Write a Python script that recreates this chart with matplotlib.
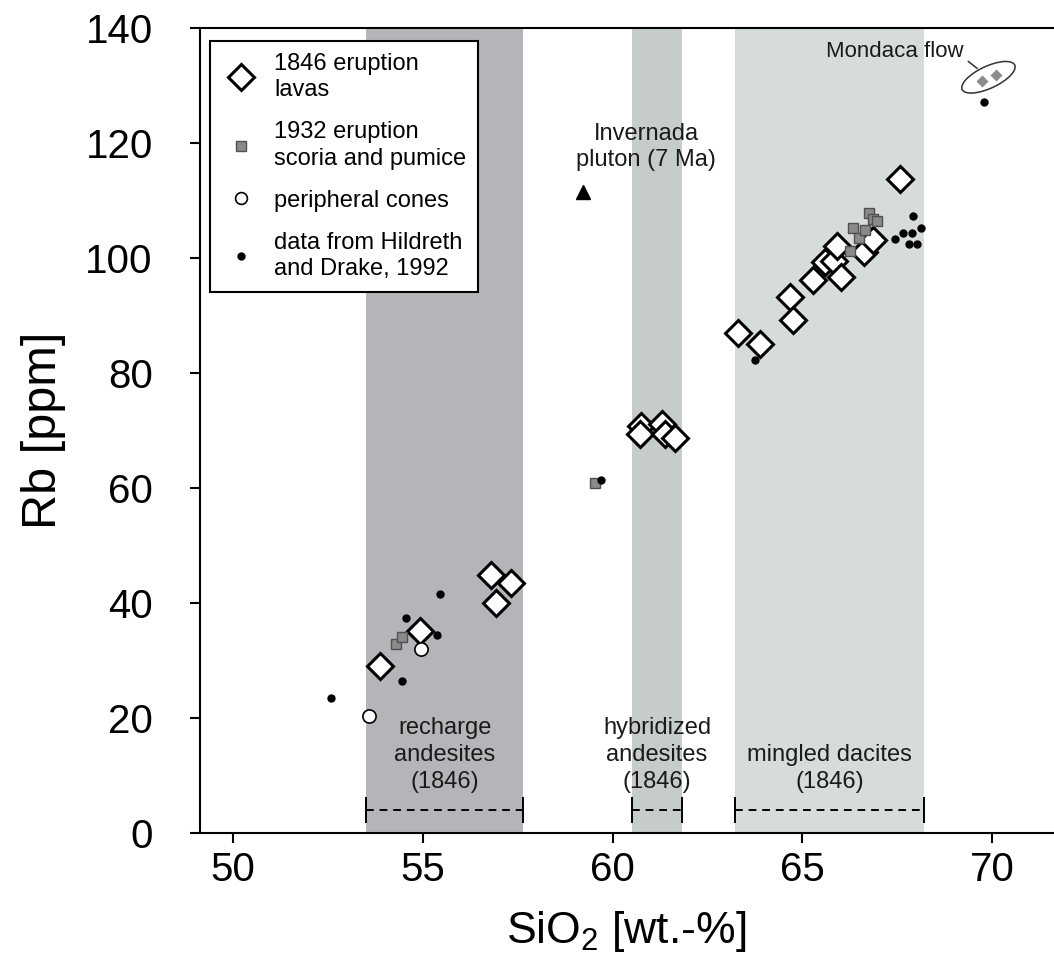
import matplotlib
matplotlib.use("Agg")
import matplotlib.pyplot as plt
from matplotlib.patches import Ellipse
from matplotlib.lines import Line2D
import matplotlib.transforms as mtransforms

plt.rcParams['font.family'] = ['Liberation Sans', 'DejaVu Sans']
plt.rcParams['mathtext.fontset'] = 'custom'
plt.rcParams['mathtext.rm'] = 'Liberation Sans'
plt.rcParams['mathtext.default'] = 'regular'

# ---- data ----
lavas_x = [53.87, 54.93, 56.79, 57.33, 56.92,
           60.75, 60.72, 61.30, 61.38, 61.65,
           63.31, 63.89, 64.68, 64.75, 65.29, 65.60, 65.82, 65.91, 66.01,
           66.63, 66.87, 67.58]
lavas_y = [29.1, 35.1, 44.8, 43.4, 40.0,
           70.8, 69.4, 71.0, 69.4, 68.7,
           86.9, 85.0, 93.1, 89.2, 96.2, 99.3, 99.5, 102.1, 96.7,
           101.0, 103.1, 113.6]

scoria_x = [54.29, 54.45, 59.54, 66.24, 66.33, 66.50, 66.65, 66.74, 66.87, 66.96]
scoria_y = [32.9, 34.1, 60.9, 101.2, 105.2, 103.5, 104.8, 107.8, 106.8, 106.4]

cones_x = [53.57, 54.95]
cones_y = [20.3, 31.9]

hildreth_x = [52.58, 54.45, 54.55, 55.37, 55.44, 59.69, 63.75,
              67.43, 67.66, 67.80, 67.88, 67.91, 68.01, 68.13, 69.79]
hildreth_y = [23.4, 26.5, 37.4, 34.4, 41.5, 61.3, 82.2,
              103.2, 104.3, 102.3, 104.3, 107.2, 102.3, 105.2, 127.1]

pluton_x = [59.23]
pluton_y = [111.4]

mondaca_x = [69.74, 70.10]
mondaca_y = [130.7, 131.8]

band_start = [53.50, 60.52, 63.22]
band_end = [57.65, 61.82, 68.20]
band_labels = ["recharge\nandesites\n(1846)", "hybridized\nandesites\n(1846)",
               "mingled dacites\n(1846)"]
band_colors = ['#b5b4b9', '#c6cbcb', '#d6dcdc']

xticks = [50, 55, 60, 65, 70]
yticks = [0, 20, 40, 60, 80, 100, 120, 140]

# ---- figure ----
fig = plt.figure(figsize=(10.54, 9.55), dpi=100)
ax = fig.add_axes([200/1054, 1 - 833/955, 853/1054, (833 - 27.5)/955])
ax.set_xlim(49.13, 71.6)
ax.set_ylim(0, 140)

for s, e, c, lab in zip(band_start, band_end, band_colors, band_labels):
    ax.axvspan(s, e, color=c, lw=0, zorder=0)
    ax.hlines(4.0, s, e, colors='black', linestyles=(0, (4, 3)), lw=1.4, zorder=2)
    ax.vlines([s, e], 1.7, 6.2, colors='black', lw=1.4, zorder=2)
    ax.text((s + e) / 2, 7.8, lab, ha='center', va='baseline', fontsize=17,
            linespacing=1.3, color='#1a1a1a', zorder=3)

ax.plot(lavas_x, lavas_y, ls='none', marker='D', ms=13.5, mfc='white',
        mec='black', mew=2.2, zorder=4)
ax.plot(scoria_x, scoria_y, ls='none', marker='s', ms=7.5, mfc='#8a8a8a',
        mec='#505050', mew=1.0, zorder=5)
ax.plot(cones_x, cones_y, ls='none', marker='o', ms=9.5, mfc='white',
        mec='black', mew=1.2, zorder=6)
ax.plot(hildreth_x, hildreth_y, ls='none', marker='o', ms=5, mfc='black',
        mec='black', zorder=7)
ax.plot(pluton_x, pluton_y, ls='none', marker='^', ms=10, mfc='black',
        mec='black', zorder=7)
ax.plot(mondaca_x, mondaca_y, ls='none', marker='D', ms=6.5, mfc='#8c8c8c',
        mec='none', zorder=7)

# ellipse around Mondaca flow, drawn in physical units at data location
cx = sum(mondaca_x) / len(mondaca_x) - 0.02
cy = sum(mondaca_y) / len(mondaca_y) + 0.1
trans = fig.dpi_scale_trans + mtransforms.ScaledTranslation(cx, cy, ax.transData)
ax.add_patch(Ellipse((0, 0), 0.58, 0.22, angle=25, fill=False, ec='#333333',
                     lw=1.1, transform=trans, zorder=8))
ax.plot([69.37, 69.60], [134.1, 132.9], color='#333333', lw=1.1, zorder=8)
ax.text(69.24, 135.8, "Mondaca flow", ha='right', va='center', fontsize=16,
        color='#1a1a1a')

ax.text(60.88, 119.2, "Invernada\npluton (7 Ma)", ha='center', va='center',
        fontsize=17, linespacing=1.25, color='#1a1a1a')

ax.set_xticks(xticks)
ax.set_yticks(yticks)
ax.tick_params(direction='out', length=7, width=1.5, labelsize=29)
ax.tick_params(axis='x', pad=6)
ax.tick_params(axis='y', pad=27)
for sp in ['left', 'bottom', 'top']:
    ax.spines[sp].set_linewidth(1.5)
ax.spines['right'].set_visible(False)

ax.set_xlabel("SiO$_2$ [wt.-%]", fontsize=32, labelpad=14)
ax.set_ylabel("Rb [ppm]", fontsize=35)
ax.yaxis.set_label_coords(-(200 - 66) / 853, 0.5)

handles = [
    Line2D([], [], ls='none', marker='D', ms=13.5, mfc='white', mec='black', mew=2.2),
    Line2D([], [], ls='none', marker='s', ms=7.5, mfc='#8a8a8a', mec='#505050', mew=1.0),
    Line2D([], [], ls='none', marker='o', ms=8.5, mfc='white', mec='black', mew=1.2),
    Line2D([], [], ls='none', marker='o', ms=5, mfc='black', mec='black'),
]
labels = ["1846 eruption\nlavas", "1932 eruption\nscoria and pumice",
          "peripheral cones", "data from Hildreth\nand Drake, 1992"]
leg = ax.legend(handles, labels, loc='upper left', bbox_to_anchor=(0.012, 0.983),
                fontsize=17, frameon=True, fancybox=False, edgecolor='black',
                framealpha=1, borderpad=0.5, labelspacing=0.85, handletextpad=0.6,
                handlelength=1.6, borderaxespad=0)
leg.get_frame().set_linewidth(1.5)
for t in leg.get_texts():
    t.set_linespacing(1.25)
leg.set_zorder(10)

fig.savefig("out.png", dpi=100)
